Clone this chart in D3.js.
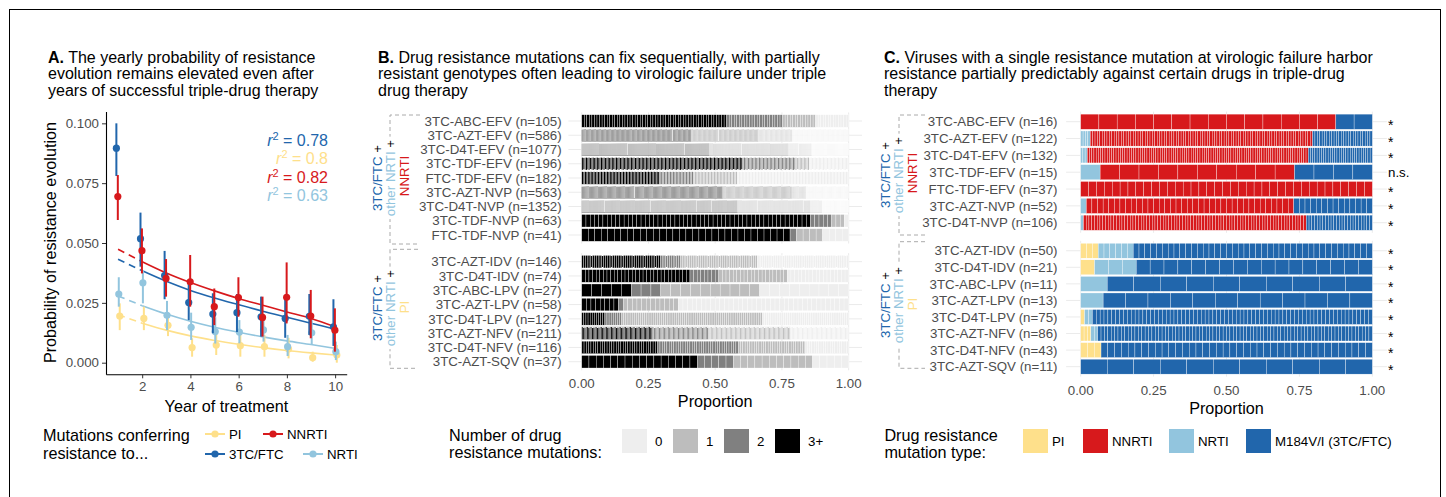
<!DOCTYPE html>
<html>
<head>
<meta charset="utf-8">
<script src="https://cdn.jsdelivr.net/npm/d3@7"></script>
<style>
  body { margin: 0; background: #fff; }
  svg text { font-family: "Liberation Sans", Arial, Helvetica, sans-serif; }
</style>
</head>
<body>
<svg id="fig" width="1446" height="497"></svg>
<script>
// ---------- Panel A data ----------
const years = [1, 2, 3, 4, 5, 6, 7, 8, 9, 10];

const ftcEst = [0.0896, 0.0518, 0.0364, 0.0251, 0.0203, 0.0209, 0.0192, 0.0185, 0.0194, 0.0150];
const ftcLo  = [0.0780, 0.0401, 0.0265, 0.0178, 0.0123, 0.0128, 0.0109, 0.0104, 0.0116, 0.0070];
const ftcHi  = [0.1000, 0.0627, 0.0467, 0.0345, 0.0290, 0.0287, 0.0276, 0.0262, 0.0287, 0.0265];
const ftcFit = [0.0432, 0.0384, 0.0340, 0.0302, 0.0270, 0.0242, 0.0215, 0.0190, 0.0165, 0.0140];

const nnrtiEst = [0.0694, 0.0468, 0.0352, 0.0338, 0.0234, 0.0272, 0.0189, 0.0273, 0.0195, 0.0136];
const nnrtiLo  = [0.0596, 0.0373, 0.0276, 0.0234, 0.0157, 0.0192, 0.0109, 0.0164, 0.0102, 0.0046];
const nnrtiHi  = [0.0784, 0.0561, 0.0433, 0.0450, 0.0310, 0.0357, 0.0276, 0.0419, 0.0304, 0.0227];
const nnrtiFit = [0.0474, 0.0422, 0.0375, 0.0335, 0.0300, 0.0268, 0.0240, 0.0212, 0.0185, 0.0150];

const nrtiEst = [0.0287, 0.0334, 0.0198, 0.0148, 0.0130, 0.0128, 0.0137, 0.0067, 0.0125, 0.0046];
const nrtiLo  = [0.0234, 0.0248, 0.0136, 0.0095, 0.0080, 0.0081, 0.0088, 0.0028, 0.0074, 0.0011];
const nrtiHi  = [0.0357, 0.0387, 0.0258, 0.0209, 0.0190, 0.0178, 0.0192, 0.0116, 0.0178, 0.0088];
const nrtiFit = [0.0279, 0.0238, 0.0203, 0.0173, 0.0148, 0.0127, 0.0108, 0.0091, 0.0076, 0.0060];

const piEst = [0.0195, 0.0185, 0.0156, 0.0063, 0.0074, 0.0071, 0.0067, 0.0057, 0.0021, 0.0032];
const piLo  = [0.0136, 0.0136, 0.0111, 0.0025, 0.0032, 0.0025, 0.0025, 0.0018, 0.0004, 0.0000];
const piHi  = [0.0248, 0.0234, 0.0206, 0.0102, 0.0125, 0.0123, 0.0116, 0.0104, 0.0046, 0.0074];
const piFit = [0.0200, 0.0165, 0.0136, 0.0112, 0.0093, 0.0077, 0.0063, 0.0051, 0.0041, 0.0032];

const r2Labels = ['0.78', '0.8', '0.82', '0.63'];

// ---------- Panel B data (counts per row: 3+, 2, 1, 0 mutations) ----------
const bLabels = [
  '3TC-ABC-EFV (n=105)', '3TC-AZT-EFV (n=586)', '3TC-D4T-EFV (n=1077)', '3TC-TDF-EFV (n=196)',
  'FTC-TDF-EFV (n=182)', '3TC-AZT-NVP (n=563)', '3TC-D4T-NVP (n=1352)', '3TC-TDF-NVP (n=63)',
  'FTC-TDF-NVP (n=41)',
  '3TC-AZT-IDV (n=146)', '3TC-D4T-IDV (n=74)', '3TC-ABC-LPV (n=27)', '3TC-AZT-LPV (n=58)',
  '3TC-D4T-LPV (n=127)', '3TC-AZT-NFV (n=211)', '3TC-D4T-NFV (n=116)', '3TC-AZT-SQV (n=37)'
];
const bThreePlus = [57, 240, 514, 118, 53, 297, 789, 54, 32, 43, 30, 5, 8, 11, 56, 33, 16];
const bTwo       = [22, 147, 320, 39, 23, 146, 368, 5, 1, 11, 8, 3, 1, 8, 44, 35, 5];
const bOne       = [13, 75, 94, 10, 30, 30, 60, 3, 4, 42, 19, 10, 12, 67, 65, 29, 11];
const bZero      = [13, 124, 149, 29, 76, 90, 135, 1, 4, 50, 17, 9, 37, 41, 46, 19, 5];
const bMutKeys = ['0', '1', '2', '3+'];

// ---------- Panel C data (counts per row by mutation type) ----------
const cLabels = [
  '3TC-ABC-EFV (n=16)', '3TC-AZT-EFV (n=122)', '3TC-D4T-EFV (n=132)', '3TC-TDF-EFV (n=15)',
  'FTC-TDF-EFV (n=37)', '3TC-AZT-NVP (n=52)', '3TC-D4T-NVP (n=106)',
  '3TC-AZT-IDV (n=50)', '3TC-D4T-IDV (n=21)', '3TC-ABC-LPV (n=11)', '3TC-AZT-LPV (n=13)',
  '3TC-D4T-LPV (n=75)', '3TC-AZT-NFV (n=86)', '3TC-D4T-NFV (n=43)', '3TC-AZT-SQV (n=11)'
];
const cPI    = [0, 0, 0, 0, 0, 0, 0, 3, 1, 0, 0, 1, 3, 3, 0];
const cNRTI  = [0, 4, 3, 1, 0, 1, 1, 6, 3, 1, 1, 2, 2, 0, 0];
const cNNRTI = [14, 93, 100, 10, 37, 37, 81, 0, 0, 0, 0, 0, 0, 0, 0];
const cM184  = [2, 25, 29, 4, 0, 14, 24, 41, 17, 10, 12, 72, 81, 40, 11];
const cSig   = ['*', '*', '*', 'n.s.', '*', '*', '*', '*', '*', '*', '*', '*', '*', '*', '*'];
const cTypeKeys = ['PI', 'NNRTI', 'NRTI', 'M184V/I (3TC/FTC)'];

// ---------- colours ----------
const colPI = '#fee08b', colNNRTI = '#d7191c', colNRTI = '#92c5de', colFTC = '#2166ac';
const greys = {'0': '#eeeeee', '1': '#bdbdbd', '2': '#808080', '3+': '#000000'};
const typeCol = {'PI': colPI, 'NNRTI': colNNRTI, 'NRTI': colNRTI, 'M184V/I (3TC/FTC)': colFTC};
const axisText = '#4d4d4d', gridCol = '#ebebeb';

const svg = d3.select('#fig');

// outer frame
svg.append('rect')
    .attr('x', 9.5).attr('y', 9.5)
    .attr('width', 1431).attr('height', 510)
    .attr('fill', 'none').attr('stroke', '#000').attr('stroke-width', 1);

// panel titles
function panelTitle(x, letter, lines) {
  const t = svg.append('text').attr('font-size', 16).attr('fill', '#000');
  lines.forEach((l, i) => {
    const ts = t.append('tspan').attr('x', x).attr('y', 62.7 + i * 16.5);
    if (i === 0) {
      ts.append('tspan').attr('font-weight', 'bold').text(letter);
      ts.append('tspan').text(' ' + l);
    } else {
      ts.text(l);
    }
  });
}
panelTitle(48, 'A.', ['The yearly probability of resistance', 'evolution remains elevated even after',
  'years of successful triple-drug therapy']);
panelTitle(378, 'B.', ['Drug resistance mutations can fix sequentially, with partially',
  'resistant genotypes often leading to virologic failure under triple', 'drug therapy']);
panelTitle(884, 'C.', ['Viruses with a single resistance mutation at virologic failure harbor',
  'resistance partially predictably against certain drugs in triple-drug', 'therapy']);

// ================= Panel A =================
const aX = d3.scaleLinear().domain([0.5, 10.48]).range([106, 346.7]);
const aY = d3.scaleLinear().domain([-0.00485, 0.1049]).range([374.3, 111.6]);

const aSeries = [
  {name: 'PI', color: colPI, est: piEst, lo: piLo, hi: piHi, fit: piFit, dodge: 0.07},
  {name: 'NRTI', color: colNRTI, est: nrtiEst, lo: nrtiLo, hi: nrtiHi, fit: nrtiFit, dodge: 0.03},
  {name: '3TC/FTC', color: colFTC, est: ftcEst, lo: ftcLo, hi: ftcHi, fit: ftcFit, dodge: -0.07},
  {name: 'NNRTI', color: colNNRTI, est: nnrtiEst, lo: nnrtiLo, hi: nnrtiHi, fit: nnrtiFit, dodge: -0.01}
];

const gA = svg.append('g');

const yAxisA = gA.append('g').attr('transform', 'translate(106,0)')
    .call(d3.axisLeft(aY).tickValues([0, 0.025, 0.05, 0.075, 0.1])
      .tickFormat(d3.format('.3f')).tickSizeInner(4).tickSizeOuter(0).tickPadding(3));
const xAxisA = gA.append('g').attr('transform', 'translate(0,374.3)')
    .call(d3.axisBottom(aX).tickValues([2, 4, 6, 8, 10])
      .tickSizeInner(4).tickSizeOuter(0).tickPadding(3));
[yAxisA, xAxisA].forEach(ax => {
  ax.select('.domain').attr('stroke', '#000').attr('stroke-width', 1.1);
  ax.selectAll('.tick line').attr('stroke', '#333');
  ax.selectAll('.tick text').attr('font-size', 13.3).attr('fill', axisText)
      .attr('font-family', null);
});

gA.append('text').attr('transform', 'translate(50,242.5) rotate(-90)')
    .attr('text-anchor', 'middle').attr('dy', '0.35em').attr('font-size', 16.2)
    .text('Probability of resistance evolution');
gA.append('text').attr('x', 226.4).attr('y', 412.4)
    .attr('text-anchor', 'middle').attr('font-size', 16.2)
    .text('Year of treatment');

// fitted curves: dashed between year 1 and 2, solid afterwards
const fitLine = d3.line().x(d => aX(d[0])).y(d => aY(d[1])).curve(d3.curveMonotoneX);
aSeries.forEach(s => {
  const pts = years.map((yr, i) => [yr, s.fit[i]]);
  gA.append('path').datum(pts.slice(0, 2)).attr('d', fitLine)
      .attr('fill', 'none').attr('stroke', s.color).attr('stroke-width', 1.6)
      .attr('stroke-dasharray', '7,5');
  gA.append('path').datum(pts.slice(1)).attr('d', fitLine)
      .attr('fill', 'none').attr('stroke', s.color).attr('stroke-width', 1.6);
});

// error bars + points
aSeries.forEach(s => {
  const rows = years.map((yr, i) => ({x: yr + s.dodge, est: s.est[i], lo: s.lo[i], hi: s.hi[i]}));
  gA.append('g').selectAll('line').data(rows).join('line')
      .attr('x1', d => aX(d.x)).attr('x2', d => aX(d.x))
      .attr('y1', d => aY(d.lo)).attr('y2', d => aY(d.hi))
      .attr('stroke', s.color).attr('stroke-width', 2);
  gA.append('g').selectAll('circle').data(rows).join('circle')
      .attr('cx', d => aX(d.x)).attr('cy', d => aY(d.est)).attr('r', 3.6)
      .attr('fill', s.color);
});

// r^2 annotations
const r2Cols = [colFTC, colPI, colNNRTI, colNRTI];
r2Labels.forEach((v, i) => {
  const t = gA.append('text').attr('x', 328).attr('y', 146 + i * 18.3)
      .attr('text-anchor', 'end').attr('font-size', 16).attr('fill', r2Cols[i]);
  t.append('tspan').attr('font-style', 'italic').text('r');
  t.append('tspan').attr('dy', -6).attr('font-size', 11).text('2');
  t.append('tspan').attr('dy', 6).text(' = ' + v);
});

// legend A
const legA = svg.append('g');
legA.append('text').attr('font-size', 16.2)
    .selectAll('tspan').data(['Mutations conferring', 'resistance to...']).join('tspan')
    .attr('x', 43).attr('y', (d, i) => 440.5 + i * 18.5).text(d => d);
const legAItems = [
  {name: 'PI', color: colPI, x: 205, y: 434},
  {name: 'NNRTI', color: colNNRTI, x: 263, y: 434},
  {name: '3TC/FTC', color: colFTC, x: 205, y: 454},
  {name: 'NRTI', color: colNRTI, x: 303, y: 454}
];
legAItems.forEach(d => {
  legA.append('line').attr('x1', d.x).attr('x2', d.x + 20).attr('y1', d.y).attr('y2', d.y)
      .attr('stroke', d.color).attr('stroke-width', 2);
  legA.append('circle').attr('cx', d.x + 10).attr('cy', d.y).attr('r', 3.6).attr('fill', d.color);
  legA.append('text').attr('x', d.x + 24).attr('y', d.y + 4.7).attr('font-size', 13.3)
      .text(d.name);
});

// ================= helpers for stacked segment bars =================
function drawSegBar(g, xs, yc, h, counts, colors) {
  const n = d3.sum(counts);
  const segs = [];
  let k = 0;
  counts.forEach((c, ci) => {
    for (let i = 0; i < c; i++) segs.push({i: k++, ci: ci});
  });
  g.append('g').selectAll('rect').data(segs).join('rect')
      .attr('x', d => xs(d.i / n))
      .attr('width', d => xs((d.i + 1) / n) - xs(d.i / n))
      .attr('y', yc - h / 2).attr('height', h)
      .attr('fill', d => colors[d.ci])
      .attr('stroke', '#fff').attr('stroke-width', 0.32);
}

function drawGrid(g, xs, ys, labels) {
  const [y0, y1] = ys.range();
  const [x0, x1] = xs.range();
  g.selectAll(null).data([0, 0.25, 0.5, 0.75, 1]).join('line')
      .attr('x1', d => xs(d)).attr('x2', d => xs(d)).attr('y1', y0).attr('y2', y1)
      .attr('stroke', gridCol).attr('stroke-width', 1);
  g.selectAll(null).data(labels).join('line')
      .attr('x1', x0).attr('x2', x1).attr('y1', d => ys(d)).attr('y2', d => ys(d))
      .attr('stroke', gridCol).attr('stroke-width', 1);
}

function rowLabels(g, x, ys, labels) {
  g.selectAll(null).data(labels).join('text')
      .attr('x', x).attr('y', d => ys(d)).attr('dy', '0.35em')
      .attr('text-anchor', 'end').attr('font-size', 13.3).attr('fill', axisText)
      .text(d => d);
}

function xAxisLabels(g, xs, yBase, yTitle) {
  g.selectAll(null).data([0, 0.25, 0.5, 0.75, 1]).join('text')
      .attr('x', d => xs(d)).attr('y', yBase).attr('text-anchor', 'middle')
      .attr('font-size', 13.3).attr('fill', axisText).text(d3.format('.2f'));
  const [x0, x1] = xs.range();
  g.append('text').attr('x', (x0 + x1) / 2).attr('y', yTitle).attr('text-anchor', 'middle')
      .attr('font-size', 16.2).text('Proportion');
}

// rotated multi-colour group label, optional white background
function rotLabel(x, y, parts, bg) {
  const t = svg.append('text').attr('transform', `translate(${x},${y}) rotate(-90)`)
      .attr('text-anchor', 'middle').attr('dy', '0.35em').attr('font-size', 13.3);
  parts.forEach(p => t.append('tspan').attr('fill', p[1]).text(p[0]));
  if (bg) {
    const bb = t.node().getBBox();
    svg.insert('rect', () => t.node())
        .attr('transform', `translate(${x},${y}) rotate(-90)`)
        .attr('x', bb.x - 3).attr('y', bb.y).attr('width', bb.width + 6).attr('height', bb.height)
        .attr('fill', '#fff');
  }
}

function bracket(x, xEnd, yTop, yBot) {
  svg.append('path')
      .attr('d', `M${xEnd},${yTop}H${x}V${yBot}H${xEnd}`)
      .attr('fill', 'none').attr('stroke', '#aaa').attr('stroke-width', 1)
      .attr('stroke-dasharray', '4,3');
}

// ================= Panel B =================
const gB = svg.append('g');
const bX = d3.scaleLinear().domain([-0.05, 1.05]).range([568.4, 862]);
const bTopLabels = bLabels.slice(0, 9), bBotLabels = bLabels.slice(9);
const bYTop = d3.scalePoint().domain(bTopLabels).range([112.45, 243.55]).padding(0.6);
const bYBot = d3.scalePoint().domain(bBotLabels).range([253.1, 370.3]).padding(0.6);

const bFacets = [[bYTop, bTopLabels, 0], [bYBot, bBotLabels, 9]];
bFacets.forEach(([ys, labels, off]) => {
  drawGrid(gB, bX, ys, labels);
  rowLabels(gB, 561.7, ys, labels);
  labels.forEach((lab, j) => {
    const i = off + j;
    drawSegBar(gB, bX, ys(lab), ys.step() * 0.88,
      [bThreePlus[i], bTwo[i], bOne[i], bZero[i]],
      [greys['3+'], greys['2'], greys['1'], greys['0']]);
  });
});
xAxisLabels(gB, bX, 388, 406.5);

bracket(390, 420, 115, 244);
bracket(390, 418, 249.3, 368.3);
rotLabel(377.3, 178, [['3TC/FTC', colFTC], [' +', '#000']]);
rotLabel(390.7, 178, [['other NRTI', colNRTI], [' +', '#000']], true);
rotLabel(404, 176, [['NNRTI', colNNRTI]]);
rotLabel(377.3, 308, [['3TC/FTC', colFTC], [' +', '#000']]);
rotLabel(390.7, 308, [['other NRTI', colNRTI], [' +', '#000']], true);
rotLabel(404, 307, [['PI', colPI]]);

// legend B
const legB = svg.append('g');
legB.append('text').attr('font-size', 16.2)
    .selectAll('tspan').data(['Number of drug', 'resistance mutations:']).join('tspan')
    .attr('x', 449).attr('y', (d, i) => 440.5 + i * 17).text(d => d);
const legBX = [622, 673, 724, 775];
bMutKeys.forEach((k, i) => {
  legB.append('rect').attr('x', legBX[i]).attr('y', 429).attr('width', 25).attr('height', 24)
      .attr('fill', greys[k]);
  legB.append('text').attr('x', legBX[i] + 33).attr('y', 445.7).attr('font-size', 13.3).text(k);
});

// ================= Panel C =================
const gC = svg.append('g');
const cX = d3.scaleLinear().domain([-0.05, 1.05]).range([1066.1, 1386.9]);
const cTopLabels = cLabels.slice(0, 7), cBotLabels = cLabels.slice(7);
const cYTop = d3.scalePoint().domain(cTopLabels).range([111.6, 232.8]).padding(0.6);
const cYBot = d3.scalePoint().domain(cBotLabels).range([240.8, 376.6]).padding(0.6);

const cFacets = [[cYTop, cTopLabels, 0], [cYBot, cBotLabels, 7]];
cFacets.forEach(([ys, labels, off]) => {
  drawGrid(gC, cX, ys, labels);
  rowLabels(gC, 1057.5, ys, labels);
  labels.forEach((lab, j) => {
    const i = off + j;
    drawSegBar(gC, cX, ys(lab), ys.step() * 0.9,
      [cPI[i], cNRTI[i], cNNRTI[i], cM184[i]],
      [colPI, colNRTI, colNNRTI, colFTC]);
    const sig = cSig[i];
    gC.append('text').attr('x', 1388).attr('y', ys(lab) + (sig === '*' ? 8 : 4.3))
        .attr('font-size', sig === '*' ? 14 : 13.3).attr('fill', '#000').text(sig);
  });
});
xAxisLabels(gC, cX, 394.7, 414);

bracket(899, 925, 115, 235);
bracket(899, 925, 241.7, 368.3);
rotLabel(885, 175, [['3TC/FTC', colFTC], [' +', '#000']]);
rotLabel(898.5, 175, [['other NRTI', colNRTI], [' +', '#000']], true);
rotLabel(912, 173, [['NNRTI', colNNRTI]]);
rotLabel(885, 305, [['3TC/FTC', colFTC], [' +', '#000']]);
rotLabel(898.5, 305, [['other NRTI', colNRTI], [' +', '#000']], true);
rotLabel(912, 304, [['PI', colPI]]);

// legend C
const legC = svg.append('g');
legC.append('text').attr('font-size', 16.2)
    .selectAll('tspan').data(['Drug resistance', 'mutation type:']).join('tspan')
    .attr('x', 884.4).attr('y', (d, i) => 440.5 + i * 17).text(d => d);
const legCX = [1023, 1083, 1169, 1246];
cTypeKeys.forEach((k, i) => {
  legC.append('rect').attr('x', legCX[i]).attr('y', 429).attr('width', 25).attr('height', 24)
      .attr('fill', typeCol[k]);
  legC.append('text').attr('x', legCX[i] + 29).attr('y', 445.7).attr('font-size', 13.3).text(k);
});
</script>
</body>
</html>
